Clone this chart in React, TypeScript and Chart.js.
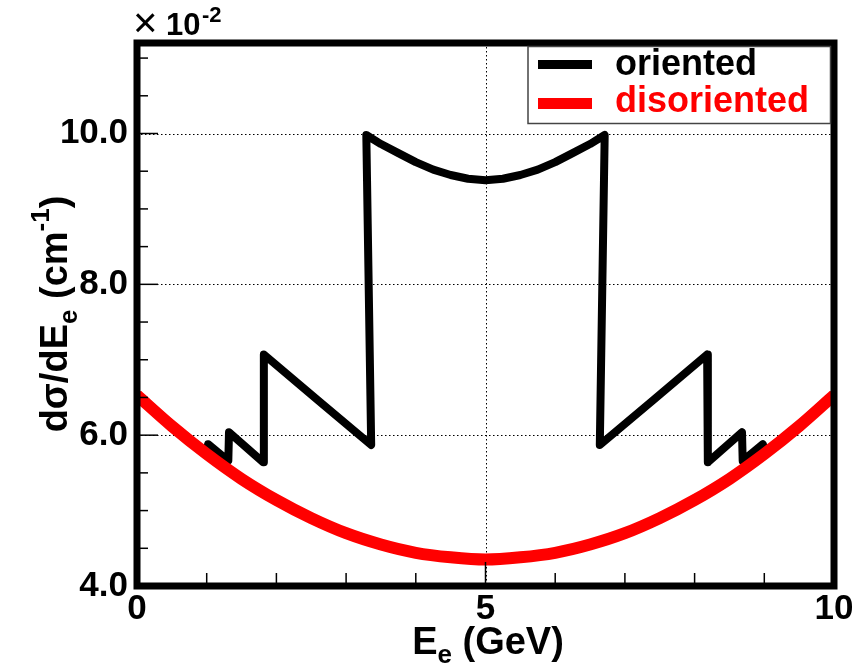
import React, { useEffect, useRef } from 'react';
import { Chart, registerables } from 'chart.js';

Chart.register(...registerables);

const FONT = '"Liberation Sans", Arial, Helvetica, sans-serif';

// Electron energy E_e (GeV) and cross sections (x 10^-2 cm^-1)
const energyDisoriented = [0, 0.5, 1, 1.5, 2, 2.5, 3, 3.5, 4, 4.5, 5, 5.5, 6, 6.5, 7, 7.5, 8, 8.5, 9, 9.5, 10];
const sigmaDisoriented = [6.53, 6.12, 5.75, 5.42, 5.14, 4.9, 4.7, 4.55, 4.44, 4.38, 4.35, 4.38, 4.44, 4.55, 4.7, 4.9, 5.14, 5.42, 5.75, 6.12, 6.53];

const energyOriented = [0, 0.5, 1.0, 1.02, 1.31, 1.32, 1.81, 1.82, 2.6, 3.36, 3.29, 3.5, 3.75, 4.0, 4.25, 4.5, 4.75, 5.0, 5.25, 5.5, 5.75, 6.0, 6.25, 6.5, 6.71, 6.64, 7.4, 8.18, 8.19, 8.68, 8.69, 8.98, 9.0, 9.5, 10];
const sigmaOriented = [6.55, 6.14, 5.77, 5.88, 5.66, 6.04, 5.64, 7.07, 6.46, 5.87, 9.98, 9.86, 9.74, 9.62, 9.52, 9.45, 9.4, 9.38, 9.4, 9.45, 9.52, 9.62, 9.74, 9.86, 9.98, 5.87, 6.46, 7.07, 5.64, 6.04, 5.66, 5.88, 5.77, 6.14, 6.55];

const seriesNames = ['oriented', 'disoriented'];
const seriesColors = ['#000000', '#ff0000'];

const xTickValues = [0, 5, 10];
const xMinorTicks = [1, 2, 3, 4, 6, 7, 8, 9];
const yTickValues = [4, 6, 8, 10];
const yMinorTicks = [4.5, 5, 5.5, 6.5, 7, 7.5, 8.5, 9, 9.5, 10.5, 11];
const xGridValues = [5];
const yGridValues = [6, 8, 10];

type Seg = { text: string; size: number; dy: number; weight?: string };

function drawRich(ctx: CanvasRenderingContext2D, segs: Seg[], cx: number, cy: number) {
  let total = 0;
  const widths = segs.map((s) => {
    ctx.font = `${s.weight || 'bold'} ${s.size}px ${FONT}`;
    const w = ctx.measureText(s.text).width;
    total += w;
    return w;
  });
  let x = cx - total / 2;
  segs.forEach((s, i) => {
    ctx.font = `${s.weight || 'bold'} ${s.size}px ${FONT}`;
    ctx.fillText(s.text, x, cy + s.dy);
    x += widths[i];
  });
}

const rootPlugin = {
  id: 'rootStyle',
  beforeDatasetsDraw(chart: any) {
    const { ctx, chartArea: a, scales } = chart;
    const xs = scales.x;
    const ys = scales.y;
    ctx.save();
    ctx.strokeStyle = '#000';
    ctx.lineWidth = 1;
    ctx.setLineDash([1.5, 2.5]);
    xGridValues.forEach((v) => {
      const px = Math.round(xs.getPixelForValue(v)) + 0.5;
      ctx.beginPath();
      ctx.moveTo(px, a.top);
      ctx.lineTo(px, a.bottom);
      ctx.stroke();
    });
    yGridValues.forEach((v) => {
      const py = Math.round(ys.getPixelForValue(v)) + 0.5;
      ctx.beginPath();
      ctx.moveTo(a.left, py);
      ctx.lineTo(a.right, py);
      ctx.stroke();
    });
    ctx.restore();
  },
  afterDraw(chart: any) {
    const { ctx, chartArea: a, scales } = chart;
    const xs = scales.x;
    const ys = scales.y;
    ctx.save();
    // ticks
    ctx.strokeStyle = '#000';
    ctx.lineWidth = 1.5;
    ctx.setLineDash([]);
    xMinorTicks.forEach((v) => {
      const px = xs.getPixelForValue(v);
      ctx.beginPath();
      ctx.moveTo(px, a.bottom);
      ctx.lineTo(px, a.bottom - 13);
      ctx.stroke();
    });
    xTickValues.forEach((v) => {
      const px = xs.getPixelForValue(v);
      ctx.beginPath();
      ctx.moveTo(px, a.bottom);
      ctx.lineTo(px, a.bottom - 24);
      ctx.stroke();
    });
    yMinorTicks.forEach((v) => {
      const py = ys.getPixelForValue(v);
      ctx.beginPath();
      ctx.moveTo(a.left, py);
      ctx.lineTo(a.left + 11, py);
      ctx.stroke();
    });
    yTickValues.forEach((v) => {
      const py = ys.getPixelForValue(v);
      ctx.beginPath();
      ctx.moveTo(a.left, py);
      ctx.lineTo(a.left + 21, py);
      ctx.stroke();
    });
    // frame
    ctx.lineWidth = 7;
    ctx.strokeRect(a.left, a.top, a.right - a.left, a.bottom - a.top);

    // legend
    const lx = 528;
    const ly = 46.5;
    const lw = a.right - 3.5 - lx;
    const lh = 77;
    ctx.fillStyle = '#fff';
    ctx.fillRect(lx, ly, lw, lh);
    ctx.strokeStyle = '#444';
    ctx.lineWidth = 1.5;
    ctx.strokeRect(lx, ly, lw, lh);
    const rowsY = [64.5, 103.5];
    const baseY = [75, 112];
    seriesNames.forEach((name, i) => {
      ctx.strokeStyle = seriesColors[i];
      ctx.lineWidth = i === 0 ? 9 : 11;
      ctx.beginPath();
      ctx.moveTo(538, rowsY[i]);
      ctx.lineTo(592, rowsY[i]);
      ctx.stroke();
      ctx.fillStyle = seriesColors[i];
      ctx.font = `bold 36px ${FONT}`;
      ctx.textAlign = 'left';
      ctx.textBaseline = 'alphabetic';
      ctx.fillText(name, 615, baseY[i]);
    });

    // exponent
    ctx.fillStyle = '#000';
    ctx.textAlign = 'left';
    ctx.textBaseline = 'alphabetic';
    ctx.font = `normal 42px ${FONT}`;
    ctx.fillText('\u00d7', 133, 37);
    ctx.font = `bold 31px ${FONT}`;
    ctx.fillText('10', 166, 35);
    ctx.font = `bold 22px ${FONT}`;
    ctx.fillText('-2', 202, 22);

    // x title
    drawRich(
      ctx,
      [
        { text: 'E', size: 38, dy: 0 },
        { text: 'e', size: 26, dy: 9 },
        { text: ' (GeV)', size: 38, dy: 0 },
      ],
      488,
      654
    );

    // y title
    ctx.save();
    ctx.translate(67, 314);
    ctx.rotate(-Math.PI / 2);
    drawRich(
      ctx,
      [
        { text: 'd\u03c3/dE', size: 38, dy: 0 },
        { text: 'e', size: 26, dy: 10 },
        { text: ' (cm', size: 38, dy: 0 },
        { text: '-1', size: 26, dy: -18 },
        { text: ')', size: 38, dy: 0 },
      ],
      0,
      0
    );
    ctx.restore();
    ctx.restore();
  },
};

export default function App() {
  const canvasRef = useRef<HTMLCanvasElement | null>(null);

  useEffect(() => {
    const canvas = canvasRef.current;
    if (!canvas) return;
    const orientedData = energyOriented.map((e, i) => ({ x: e, y: sigmaOriented[i] }));
    const disorientedData = energyDisoriented.map((e, i) => ({ x: e, y: sigmaDisoriented[i] }));
    const tickFont = { family: FONT, size: 35, weight: 'bold' as const };
    const chart = new Chart(canvas, {
      type: 'line',
      data: {
        datasets: [
          {
            label: seriesNames[0],
            data: orientedData,
            borderColor: seriesColors[0],
            backgroundColor: seriesColors[0],
            borderWidth: 8,
            pointRadius: 0,
            tension: 0,
            borderJoinStyle: 'round',
            borderCapStyle: 'round',
            order: 1,
          },
          {
            label: seriesNames[1],
            data: disorientedData,
            borderColor: seriesColors[1],
            backgroundColor: seriesColors[1],
            borderWidth: 12,
            pointRadius: 0,
            cubicInterpolationMode: 'monotone',
            order: 0,
          },
        ],
      },
      options: {
        animation: false,
        responsive: false,
        maintainAspectRatio: false,
        events: [],
        layout: { padding: { top: 43, right: 18, left: 0, bottom: 0 } },
        plugins: {
          legend: { display: false },
          tooltip: { enabled: false },
          title: { display: false },
        },
        scales: {
          x: {
            type: 'linear',
            min: 0,
            max: 10,
            afterBuildTicks: (s: any) => {
              s.ticks = xTickValues.map((v) => ({ value: v }));
            },
            afterFit: (s: any) => {
              s.height = 82;
              s.paddingLeft = 0;
              s.paddingRight = 0;
            },
            grid: { display: false, drawTicks: false },
            border: { display: false },
            ticks: {
              font: tickFont,
              color: '#000',
              padding: 2,
              maxRotation: 0,
              autoSkip: false,
              callback: (v: any) => String(v),
            },
          },
          y: {
            type: 'linear',
            min: 4,
            max: 11.2,
            afterBuildTicks: (s: any) => {
              s.ticks = yTickValues.map((v) => ({ value: v }));
            },
            afterFit: (s: any) => {
              s.width = 137;
              s.paddingTop = 0;
              s.paddingBottom = 0;
            },
            grid: { display: false, drawTicks: false },
            border: { display: false },
            ticks: {
              font: tickFont,
              color: '#000',
              padding: 9,
              autoSkip: false,
              callback: (v: any) => Number(v).toFixed(1),
            },
          },
        },
      },
      plugins: [rootPlugin],
    });
    return () => chart.destroy();
  }, []);

  return (
    <div style={{ position: 'absolute', left: 0, top: 0, width: 852, height: 668, background: '#fff' }}>
      <canvas ref={canvasRef} width={852} height={668} style={{ display: 'block' }} />
    </div>
  );
}
